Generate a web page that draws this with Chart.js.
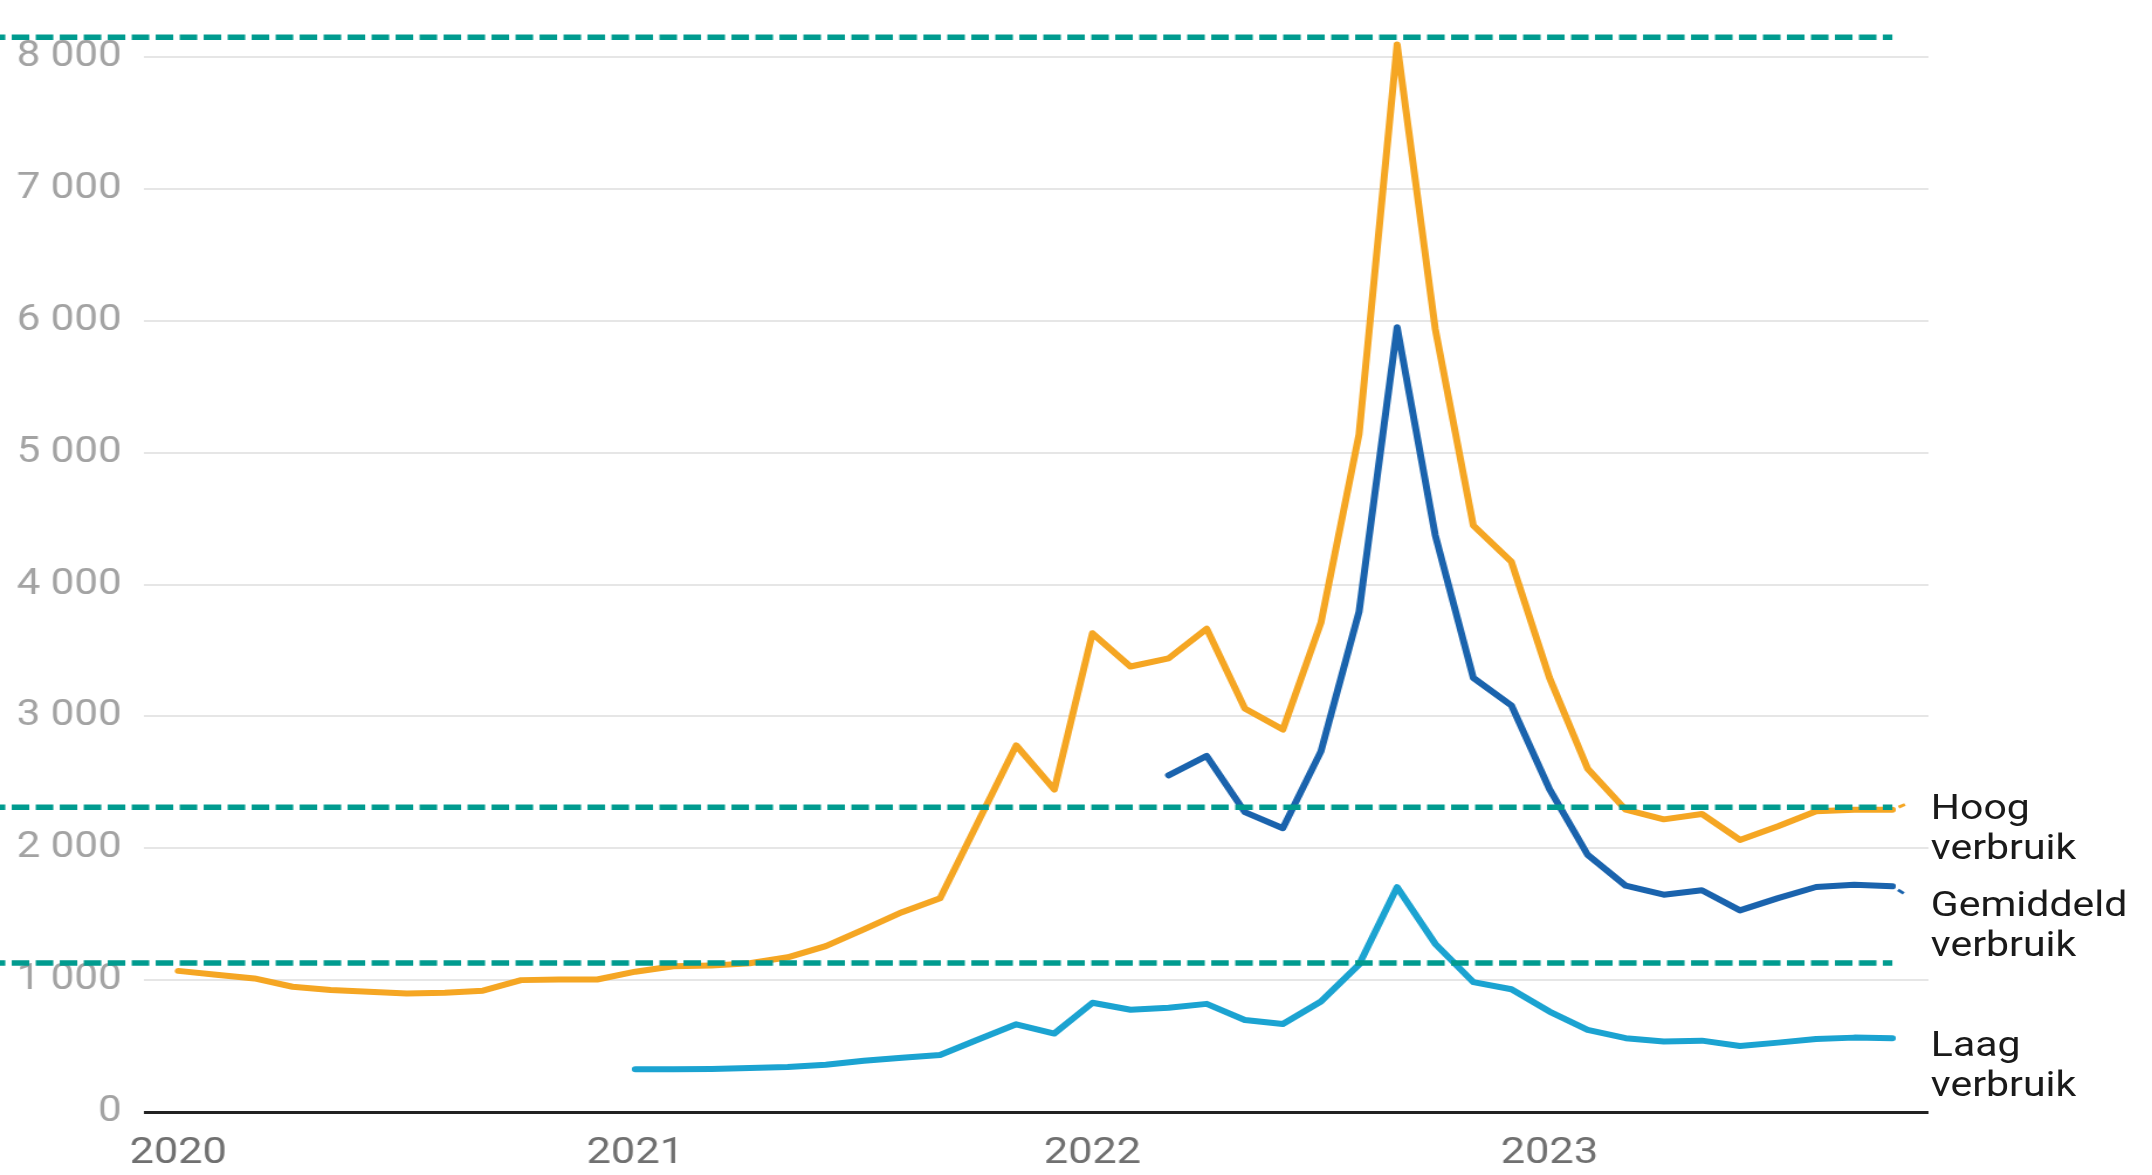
<!DOCTYPE html>
<html>
<head>
<meta charset="utf-8">
<script src="https://cdn.jsdelivr.net/npm/chart.js@4"></script>
<style>
  body { margin: 0; background: #fff; overflow: hidden; }
  /* het origineel is horizontaal uitgerekt: teken smaller en rek op */
  #wrap {
    position: relative; width: 1839px; height: 1175px;
    transform: scaleX(1.1702); transform-origin: 0 0;
  }
  .lbl {
    position: absolute; left: 1650px;
    font-family: Roboto, sans-serif; font-size: 35px; line-height: 40px;
    color: #1a1a1a; white-space: nowrap;
  }
</style>
</head>
<body>
<div id="wrap">
  <canvas id="prijsChart" width="1839" height="1175"></canvas>
  <div class="lbl" style="top:788px">Hoog<br>verbruik</div>
  <div class="lbl" style="top:885px">Gemiddeld<br>verbruik</div>
  <div class="lbl" style="top:1025px">Laag<br>verbruik</div>
</div>
<script>
// maanden vanaf januari 2020 (index 0) t/m oktober 2023 (index 45)
const hoog = [1070, 1040, 1013, 950, 925, 912, 898, 905, 920, 1000, 1005, 1005,
  1064, 1105, 1110, 1128, 1173, 1258, 1385, 1515, 1620, 2200, 2780, 2445,
  3630, 3378, 3440, 3665, 3060, 2900, 3710, 5140, 8095, 5940, 4448, 4172,
  3292, 2604, 2292, 2219, 2260, 2063, 2167, 2281, 2292, 2292];
const gemiddeld = [null, null, null, null, null, null, null, null, null, null, null, null,
  null, null, null, null, null, null, null, null, null, null, null, null,
  null, null, 2553, 2700, 2274, 2152, 2735, 3793, 5950, 4375, 3292, 3083,
  2448, 1951, 1716, 1648, 1681, 1529, 1622, 1706, 1724, 1711];
const laag = [null, null, null, null, null, null, null, null, null, null, null, null,
  324, 325, 327, 334, 341, 359, 388, 412, 432, 550, 665, 595,
  828, 775, 790, 820, 698, 667, 838, 1118, 1705, 1275, 985, 931,
  762, 623, 560, 534, 541, 501, 526, 554, 564, 560];

// horizontale streepjeslijnen
const drempels = [8150, 2310, 1130];

// aansluiting naar de labels rechts
const hoogEinde = [2292, 2346];
const gemiddeldEinde = [1711, 1640];

const jaarLabels = ['2020', '2021', '2022', '2023'];
const jaarIndex = [0, 12, 24, 36];
const yTicks = [0, 1000, 2000, 3000, 4000, 5000, 6000, 7000, 8000];

const oranje = '#f5a623';
const donkerblauw = '#1a63ad';
const lichtblauw = '#1ba3d1';
const teal = '#009b8f';

function punten(reeks) {
  return reeks.map((v, i) => ({ x: i, y: v })).filter(p => p.y !== null);
}

function lijn(data, kleur) {
  return {
    data: data, borderColor: kleur, borderWidth: 6, pointRadius: 0,
    tension: 0, clip: false, borderJoinStyle: 'round', borderCapStyle: 'round', fill: false
  };
}

const datasets = [];
drempels.forEach(d => {
  datasets.push({
    data: [{ x: -5, y: d }, { x: 45, y: d }],
    borderColor: teal, borderWidth: 5.5, borderDash: [15, 5.5],
    pointRadius: 0, clip: false, fill: false
  });
});
datasets.push(lijn(punten(hoog), oranje));
datasets.push(lijn(punten(gemiddeld), donkerblauw));
datasets.push(lijn(punten(laag), lichtblauw));
datasets.push({
  data: [{ x: 45, y: hoogEinde[0] }, { x: 45.45, y: hoogEinde[1] }],
  borderColor: oranje, borderWidth: 3, borderDash: [6, 8], borderDashOffset: 8,
  pointRadius: 0, clip: false
});
datasets.push({
  data: [{ x: 45, y: gemiddeldEinde[0] }, { x: 45.4, y: gemiddeldEinde[1] }],
  borderColor: donkerblauw, borderWidth: 3, borderDash: [6, 8], borderDashOffset: 8,
  pointRadius: 0, clip: false
});

Chart.defaults.font.family = 'Roboto, sans-serif';

new Chart(document.getElementById('prijsChart'), {
  type: 'line',
  data: { datasets: datasets },
  options: {
    responsive: false,
    animation: false,
    layout: { padding: { top: 57, right: 191, bottom: 0, left: 0 } },
    plugins: { legend: { display: false }, tooltip: { enabled: false } },
    scales: {
      x: {
        type: 'linear', min: -0.9, max: 45.95,
        afterBuildTicks: s => { s.ticks = jaarIndex.map(v => ({ value: v })); },
        afterFit: s => { s.height = 63; },
        grid: { display: false },
        border: { display: false },
        ticks: {
          color: '#707070', font: { size: 37 }, padding: 12, maxRotation: 0,
          callback: v => jaarLabels[jaarIndex.indexOf(v)]
        }
      },
      y: {
        min: 0, max: 8000,
        afterBuildTicks: s => { s.ticks = yTicks.map(v => ({ value: v })); },
        afterFit: s => { s.width = 123; },
        border: { display: false },
        grid: {
          drawTicks: false,
          color: c => c.tick.value === 0 ? '#222222' : '#e6e6e6',
          lineWidth: c => c.tick.value === 0 ? 3 : 2
        },
        ticks: {
          color: '#a3a3a3', font: { size: 36 }, padding: 19,
          callback: v => String(v).replace(/\B(?=(\d{3})+(?!\d))/g, ' ')
        }
      }
    }
  }
});
</script>
</body>
</html>
